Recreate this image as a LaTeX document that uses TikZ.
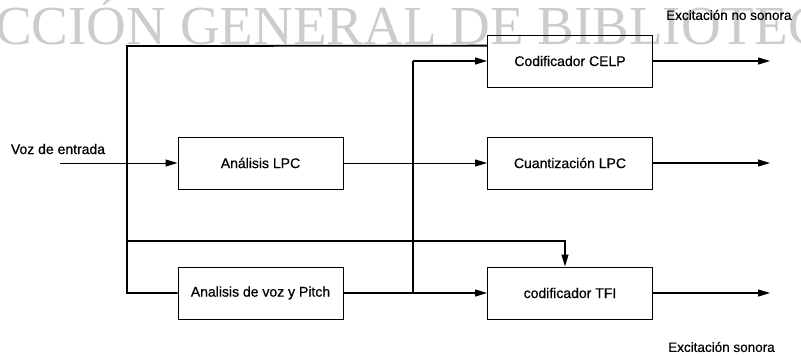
\documentclass[tikz,border=0pt]{standalone}
\usepackage{fontspec}
\setmainfont{Liberation Sans}[UprightFeatures={FakeBold=0.6}]
\newfontfamily\wmfont{Liberation Serif}
\usetikzlibrary{arrows.meta,calc}
\begin{document}
\begin{tikzpicture}[x=1pt,y=1pt,
  blk/.style={draw,line width=1pt,minimum width=165pt,minimum height=52pt,inner sep=0pt,font=\fontsize{14}{16}\selectfont},
  bus/.style={line width=1.8pt},
  wire/.style={line width=1.2pt},
  arr/.style={-{Triangle[length=12pt,width=7pt]}},
  lbl/.style={font=\fontsize{14}{16}\selectfont,inner sep=0pt},
  slbl/.style={font=\fontsize{13.5}{16}\selectfont,inner sep=0pt,anchor=west}]
\useasboundingbox (0,0) rectangle (801,-356);
% watermark
\begin{scope}
\clip (0,0) rectangle (801,-356);
\node[anchor=base west,inner sep=0pt,text=black!20,font=\wmfont\fontsize{55}{60}\selectfont] (wm) at (-5,-45) {CCIÓN GENERAL DE BIBLIOTEC};
\end{scope}
% blocks
\node[blk] (lpc) at (260.5,-163) {Análisis LPC};
\node[blk] (pitch) at (260.5,-293) {Analisis de voz y Pitch};
\node[blk] (celp) at (570,-61) {Codificador CELP};
\node[blk] (cuant) at (570,-163) {Cuantización LPC};
\node[blk] (tfi) at (570,-293) {codificador TFI};
% labels
\node[lbl] (voz) at (58,-149) {Voz de entrada};
\node[slbl] (ens) at (666,-15) {Excitación no sonora};
\node[slbl] (es) at (668,-347) {Excitación sonora};
% junction coordinates
\coordinate (vin) at (60,-163);
\coordinate (btop) at (127,-46);
\coordinate (bmid) at (127,-241);
\coordinate (bbot) at (127,-293);
\coordinate (celpin) at ($(celp.north west)!0.21!(celp.south west)$);
\coordinate (tfitop) at ($(tfi.north)+(-5,0)$);
\coordinate (jbot) at (413,-293);
\coordinate (jtop) at (413,-61);
\coordinate (o1) at (770,-61);
\coordinate (o2) at (770,-163);
\coordinate (o3) at (770,-293);
% connectors
\draw[wire,arr,line width=1pt] (vin) -- (lpc.west);
\draw[bus] (pitch.west) -- (bbot) -- (btop) -- (celpin);
\draw[wire,arr] (bmid) -- (bmid -| tfitop) -- (tfitop);
\draw[wire,arr,line width=1pt] (lpc.east) -- (cuant.west);
\draw[wire,arr] (pitch.east) -- (jbot) -- (tfi.west);
\draw[bus] (jbot) -- (jtop);
\draw[wire,arr] (jtop) -- (celp.west);
\draw[wire,arr] (celp.east) -- (o1);
\draw[wire,arr] (cuant.east) -- (o2);
\draw[wire,arr] (tfi.east) -- (o3);
\end{tikzpicture}
\end{document}
